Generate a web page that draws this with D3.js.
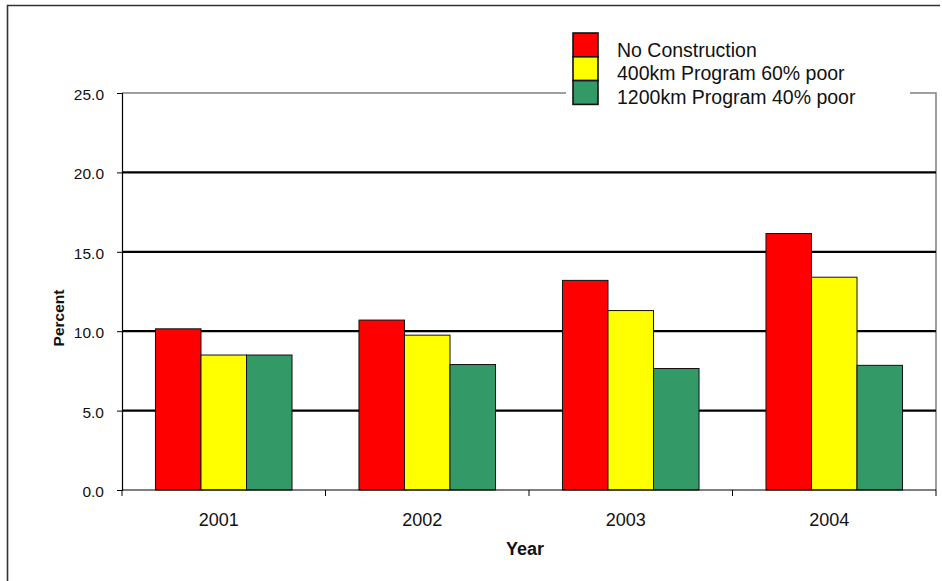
<!DOCTYPE html>
<html>
<head>
<meta charset="utf-8">
<script src="https://cdn.jsdelivr.net/npm/d3@7"></script>
<style>
  html, body { margin: 0; padding: 0; background: #fff; }
  svg { display: block; font-family: "Liberation Sans", Arial, sans-serif; }
</style>
</head>
<body>
<svg id="chart" width="942" height="581"></svg>
<script>
// Share of network in poor condition, by year and construction scenario
const years = ["2001", "2002", "2003", "2004"];
const seriesNames = ["No Construction", "400km Program 60% poor", "1200km Program 40% poor"];
const seriesColors = ["#ff0000", "#ffff00", "#339966"];
const noConstruction = [10.15, 10.7, 13.2, 16.15];
const program400 = [8.5, 9.75, 11.3, 13.4];
const program1200 = [8.5, 7.9, 7.65, 7.85];
const yTicks = [0, 5, 10, 15, 20, 25];

const seriesValues = [noConstruction, program400, program1200];

const svg = d3.select("#chart");

// outer chart frame (top and left edges)
svg.append("path")
  .attr("d", "M7.5,581 L7.5,5.5 L940,5.5")
  .attr("fill", "none")
  .attr("stroke", "#333")
  .attr("stroke-width", 1.6);

const plot = { left: 122, right: 936, top: 93, bottom: 490 };

const x0 = d3.scaleBand()
  .domain(years)
  .range([plot.left, plot.right])
  .paddingInner(0.329)
  .paddingOuter(0.1645);

const x1 = d3.scaleBand()
  .domain(d3.range(seriesNames.length))
  .range([0, x0.bandwidth()]);

const y = d3.scaleLinear().domain([0, 25]).range([plot.bottom, plot.top]);

// plot-area border on top and right (grey)
svg.append("path")
  .attr("d", `M${plot.left},${y(25)} L${plot.right},${y(25)} L${plot.right},${plot.bottom}`)
  .attr("fill", "none")
  .attr("stroke", "#808080")
  .attr("stroke-width", 1.5);

// heavy gridlines
svg.append("g")
  .selectAll("line")
  .data(yTicks.filter(t => t > 0 && t < 25))
  .join("line")
  .attr("x1", plot.left)
  .attr("x2", plot.right)
  .attr("y1", d => y(d))
  .attr("y2", d => y(d))
  .attr("stroke", "#000")
  .attr("stroke-width", 2.3);

// bars
const groups = svg.append("g")
  .selectAll("g")
  .data(years)
  .join("g")
  .attr("transform", d => `translate(${x0(d)},0)`);

groups.selectAll("rect")
  .data((d, i) => seriesValues.map((vals, s) => ({ s, v: vals[i] })))
  .join("rect")
  .attr("x", d => x1(d.s))
  .attr("width", x1.bandwidth())
  .attr("y", d => y(d.v))
  .attr("height", d => y(0) - y(d.v))
  .attr("fill", d => seriesColors[d.s])
  .attr("stroke", "#111")
  .attr("stroke-width", 1);

// y axis
const yAxis = d3.axisLeft(y)
  .tickValues(yTicks)
  .tickFormat(d3.format(".1f"))
  .tickSize(5)
  .tickPadding(13);

const yg = svg.append("g")
  .attr("transform", `translate(${plot.left},0)`)
  .call(yAxis);
yg.select(".domain").attr("stroke", "#000").attr("stroke-width", 1.2);
yg.selectAll(".tick line").attr("stroke", "#000");
yg.selectAll(".tick text")
  .attr("font-family", "Liberation Sans, Arial, sans-serif")
  .attr("font-size", 15.5)
  .attr("fill", "#111")
  .attr("dy", "0.42em");

// x axis with ticks between categories
svg.append("line")
  .attr("x1", plot.left).attr("x2", plot.right)
  .attr("y1", plot.bottom).attr("y2", plot.bottom)
  .attr("stroke", "#000").attr("stroke-width", 1.2);

svg.append("g")
  .selectAll("line")
  .data(d3.range(years.length + 1).map(i => plot.left + i * x0.step()))
  .join("line")
  .attr("x1", d => d).attr("x2", d => d)
  .attr("y1", plot.bottom).attr("y2", plot.bottom + 6)
  .attr("stroke", "#000");

svg.append("g")
  .selectAll("text")
  .data(years)
  .join("text")
  .attr("x", d => x0(d) + x0.bandwidth() / 2 - 5)
  .attr("y", 526)
  .attr("text-anchor", "middle")
  .attr("font-size", 18)
  .attr("fill", "#111")
  .text(d => d);

// axis titles
svg.append("text")
  .attr("x", 525)
  .attr("y", 555)
  .attr("text-anchor", "middle")
  .attr("font-size", 18)
  .attr("font-weight", "bold")
  .attr("fill", "#111")
  .text("Year");

svg.append("text")
  .attr("transform", "translate(64,318) rotate(-90)")
  .attr("text-anchor", "middle")
  .attr("font-size", 15.5)
  .attr("font-weight", "bold")
  .attr("fill", "#111")
  .text("Percent");

// legend
const legend = svg.append("g");
legend.append("rect")
  .attr("x", 566).attr("y", 28)
  .attr("width", 344).attr("height", 82)
  .attr("fill", "#fff");

const legendItem = legend.selectAll("g")
  .data(seriesNames)
  .join("g")
  .attr("transform", (d, i) => `translate(573,${33 + i * 23.8})`);

legendItem.append("rect")
  .attr("width", 25)
  .attr("height", 23.8)
  .attr("fill", (d, i) => seriesColors[i])
  .attr("stroke", "#111")
  .attr("stroke-width", 1.6);

legendItem.append("text")
  .attr("x", 44)
  .attr("y", 23.5)
  .attr("font-size", 19.5)
  .attr("fill", "#111")
  .text(d => d);
</script>
</body>
</html>
